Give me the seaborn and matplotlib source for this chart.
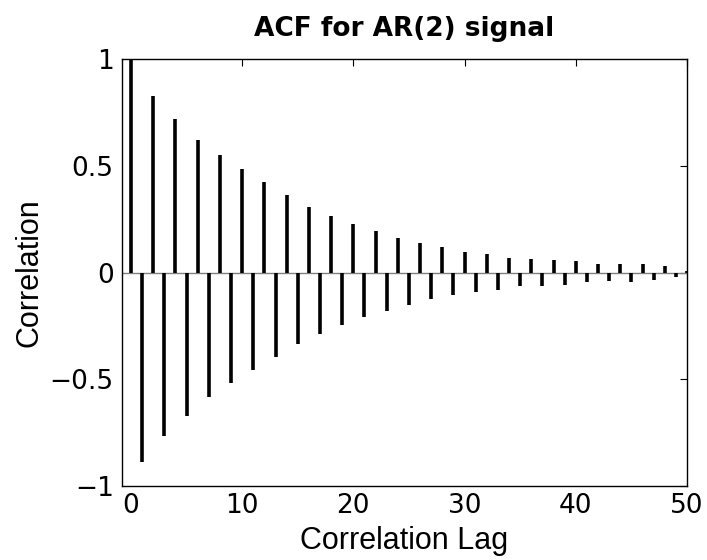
import numpy as np
import pandas as pd
import matplotlib
matplotlib.use("Agg")
import matplotlib.pyplot as plt
import seaborn as sns

lags = list(range(51))
acf = [1.0, -0.886, 0.829, -0.764, 0.719, -0.670, 0.622, -0.584, 0.550, -0.516,
       0.485, -0.458, 0.427, -0.394, 0.363, -0.334, 0.310, -0.287, 0.266, -0.247,
       0.227, -0.209, 0.196, -0.180, 0.163, -0.150, 0.138, -0.125, 0.120, -0.105,
       0.097, -0.092, 0.086, -0.080, 0.070, -0.064, 0.063, -0.064, 0.061, -0.059,
       0.053, -0.044, 0.042, -0.039, 0.041, -0.042, 0.041, -0.036, 0.031, -0.019,
       0.010]
xticks = [0, 10, 20, 30, 40, 50]
yticks = [-1, -0.5, 0, 0.5, 1]
ytick_labels = ["\u22121", "\u22120.5", "0", "0.5", "1"]

df = pd.DataFrame({"lag": lags, "acf": acf})

sns.set_theme(style="white")
plt.rcParams['font.family'] = ['Liberation Sans', 'DejaVu Sans']
plt.rcParams['text.color'] = 'black'
plt.rcParams['axes.labelcolor'] = 'black'

fig = plt.figure(figsize=(7.07, 5.6), dpi=100)
ax = fig.add_axes([0.1726, 0.1321, 0.7991, 0.7617])

ax.axhline(0, color="#808080", lw=1.0, zorder=1)
ax.vlines(df["lag"], 0, df["acf"], colors="black", lw=2.6, zorder=2)

ax.set_xlim(-0.8, 50)
ax.set_ylim(-1, 1)
ax.set_xticks(xticks)
ax.set_xticklabels([str(t) for t in xticks])
ax.set_yticks(yticks)
ax.set_yticklabels(ytick_labels)
ax.tick_params(direction="in", length=5, width=0.8, top=True, right=True,
               colors="black", labelcolor="black")
ax.tick_params(axis="x", pad=5)
ax.tick_params(axis="y", pad=6)
for lab in ax.get_xticklabels() + ax.get_yticklabels():
    lab.set_fontfamily(['DejaVu Sans'])
    lab.set_fontsize(19)
for s in ax.spines.values():
    s.set_color("black")
    s.set_linewidth(1.0)

ax.set_xlabel("Correlation Lag", fontsize=22, labelpad=5)
ax.set_ylabel("Correlation", fontsize=22, labelpad=4)
ax.set_title("ACF for AR(2) signal", fontsize=19, fontweight="bold", pad=17,
             fontfamily=['DejaVu Sans'])

fig.savefig("out.png", dpi=100)
